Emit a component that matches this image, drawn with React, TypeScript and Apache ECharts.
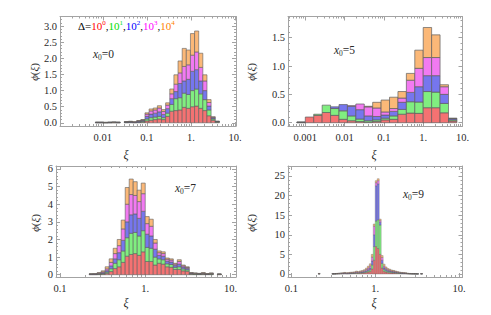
import React, { useEffect, useRef } from 'react';
import * as echarts from 'echarts';

const FONT = 'Liberation Serif, DejaVu Serif, serif';
const FRAME = '#a3a3a3';
const TEXT = '#2a2a2a';
const FILL = ['#f47272', '#80ee80', '#7676ee', '#f27af2', '#fbb878'];
const EDGE = '#5e5e5e';

// legend: Δ = 10^0 ... 10^4
const deltaExponents = ['0', '1', '2', '3', '4'];
const legendColors = ['#ff0000', '#00dd00', '#0000ff', '#ff00ff', '#ff8000'];
// panel annotations x0 = ...
const x0Values = ['0', '5', '7', '9'];
// tick labels for log10 exponents
const xTickText: Record<string, string> = { '-3': '0.001', '-2': '0.01', '-1': '0.1', '0': '1.', '1': '10.' };

// ---------- Panel 1 (x0 = 0): bins in log10(ξ) ----------
const p1BinStart = -2.168;
const p1BinWidth = 0.0937;
const p1Red = [.004, .004, .003, .004, .005, .004, 0, .008, .01, .006, .01, .02, .06, .08, .10, .12, .10, .20, .36, .38, .40, .48, .45, .50, .52, .45, .38, .22, .08, .02];
const p1Green = [.004, .004, .003, .004, .005, .004, 0, .008, .01, .006, .01, .025, .06, .08, .08, .08, .06, .10, .21, .37, .38, .44, .43, .50, .53, .45, .34, .18, .04, .01];
const p1Blue = [.004, .004, .003, .004, .005, .004, 0, .008, .01, .006, .025, .025, .08, .11, .12, .14, .10, .14, .18, .22, .44, .38, .47, .60, .60, .40, .28, .12, .03, .01];
const p1Magenta = [.004, .004, .003, .004, .005, .004, 0, .008, .01, .006, .015, .02, .07, .10, .10, .12, .09, .11, .15, .23, .33, .45, .45, .50, .55, .42, .30, .11, .02, .005];
const p1Orange = [.004, .004, .003, .004, .005, .004, 0, .008, .01, .006, .01, .01, .04, .06, .06, .07, .06, .07, .15, .29, .37, .56, .46, .67, .65, .44, .19, .09, .02, .005];

// ---------- Panel 2 (x0 = 5) ----------
const p2BinStart = -3.214;
const p2BinWidth = 0.2143;
const p2Red = [.002, .10, .13, .18, .13, .06, .035, .02, .01, .02, .05, .06, .15, .17, .165, .265, .265, .175, .03];
const p2Green = [.002, 0, .02, .13, .12, .15, .085, .045, .025, .03, .03, .06, .085, .20, .20, .285, .275, .165, .02];
const p2Blue = [.002, 0, 0, 0, .03, .11, .17, .165, .085, .06, .055, .08, .125, .165, .27, .28, .29, .16, .02];
const p2Magenta = [.002, 0, 0, 0, 0, 0, .01, .10, .16, .15, .055, .05, .075, .215, .325, .32, .32, .135, .005];
const p2Orange = [.002, 0, 0, 0, 0, 0, 0, 0, .01, .10, .21, .20, .115, .12, .32, .53, .40, .035, .005];

// ---------- Panel 3 (x0 = 7) ----------
const p3BinStart = -0.658;
const p3BinWidth = 0.047;
const p3Red = [.01, .01, .02, .03, .08, .18, .35, .45, .70, 1.05, 1.15, 1.2, 1.1, 1.3, .75, .75, .55, .65, .6, .45, .42, .3, .3, .22, .2, .03, .02, .02, .03, .015, .02, 0, .01];
const p3Green = [.01, .01, .02, .04, .07, .16, .30, .40, .65, 1.05, 1.2, 1.2, 1.1, 1.2, .8, .75, .45, .25, .25, .17, .16, .12, .15, .11, .08, .03, .02, .015, .02, .01, .02, 0, .01];
const p3Blue = [.01, .01, .02, .04, .08, .16, .25, .40, .60, .90, 1.05, 1.05, 1.0, 1.1, .75, .7, .45, .2, .2, .15, .14, .1, .15, .1, .07, .02, .02, .015, .02, .01, .02, 0, .005];
const p3Magenta = [.01, .015, .03, .05, .10, .20, .30, .40, .65, 1.0, 1.15, 1.05, .95, 1.0, .6, .55, .35, .15, .15, .11, .11, .08, .15, .07, .06, .02, .02, .015, .02, .01, .02, 0, .005];
const p3Orange = [.01, .015, .03, .06, .12, .20, .30, .35, .50, .95, .88, .78, .65, .6, .4, .4, .2, .1, .1, .07, .07, .05, .1, .05, .04, .02, .02, .015, .03, .015, .02, 0, .01];

// ---------- Panel 4 (x0 = 9) ----------
const p4BinStart = -0.681;
const p4BinWidth = 0.02348;
const p4Red = [.03, 0, 0, 0, 0, 0, 0, .02, .02, .04, .05, .06, .07, .1, .07, .08, .1, .12, .13, .18, .15, .2, .22, .28, .38, .5, .65, 1.3, 3.5, 7.0, 6.5, 5.0, 1.5, .7, .5, .38, .32, .27, .24, .2, .16, .13, .1, .09, .08, .05, .04, .03, .025, .02, .01, 0, .02];
const p4Green = [.02, 0, 0, 0, 0, 0, 0, .01, .015, .02, .03, .04, .05, .06, .05, .05, .07, .08, .08, .11, .09, .12, .14, .17, .23, .32, .45, 1.0, 3.5, 6.5, 7.3, 7.5, 1.2, .5, .35, .27, .23, .19, .17, .14, .11, .09, .07, .06, .05, .04, .03, .02, .02, .015, .01, 0, .02];
const p4Blue = [.02, 0, 0, 0, 0, 0, 0, .01, .015, .02, .03, .04, .04, .06, .04, .05, .07, .07, .08, .11, .09, .12, .14, .17, .23, .3, .4, 1.0, 3.0, 9.0, 9.2, .7, .8, .4, .3, .23, .2, .16, .15, .12, .1, .08, .07, .06, .05, .03, .02, .02, .015, .015, .01, 0, .02];
const p4Magenta = [.03, 0, 0, 0, 0, 0, 0, .02, .02, .03, .04, .05, .06, .08, .06, .07, .09, .1, .11, .15, .12, .16, .18, .22, .3, .4, .55, 1.0, 2.2, .8, .8, .4, .7, .4, .3, .24, .2, .17, .15, .13, .1, .09, .07, .06, .05, .03, .02, .02, .015, .01, .01, 0, .02];
const p4Orange = [.05, 0, 0, 0, 0, 0, 0, .02, .03, .04, .05, .06, .08, .1, .08, .1, .12, .13, .15, .2, .15, .2, .22, .26, .36, .48, .55, .7, .55, .5, .5, .4, .5, .5, .35, .28, .25, .21, .19, .16, .13, .11, .09, .08, .07, .05, .04, .03, .025, .02, .01, 0, .02];

const panels = [
  {
    grid: { left: 60, top: 16.5, width: 176, height: 109.5 },
    xMin: -2.97, xMax: 1.02, yMin: -0.099, yMax: 3.3, yMajor: 0.5, yMinorPerMajor: 5, yDigits: 1,
    start: p1BinStart, width: p1BinWidth, layers: [p1Red, p1Green, p1Blue, p1Magenta, p1Orange],
    edgeWidth: 0.6,
    xiLabel: [126, 155], phiLabel: [34, 72], x0Label: [93, 54],
  },
  {
    grid: { left: 288, top: 16.5, width: 174.5, height: 109.5 },
    xMin: -3.44, xMax: 1.0, yMin: -0.058, yMax: 1.874, yMajor: 0.5, yMinorPerMajor: 5, yDigits: 1,
    start: p2BinStart, width: p2BinWidth, layers: [p2Red, p2Green, p2Blue, p2Magenta, p2Orange],
    edgeWidth: 0.7,
    xiLabel: [374, 155], phiLabel: [251, 72], x0Label: [334, 50],
  },
  {
    grid: { left: 56, top: 166, width: 180, height: 111 },
    xMin: -1.047, xMax: 1.065, yMin: -0.13, yMax: 6.17, yMajor: 1, yMinorPerMajor: 5, yDigits: 0,
    start: p3BinStart, width: p3BinWidth, layers: [p3Red, p3Green, p3Blue, p3Magenta, p3Orange],
    edgeWidth: 0.6,
    xiLabel: [126, 303], phiLabel: [35, 223], x0Label: [175, 188],
  },
  {
    grid: { left: 288, top: 166, width: 174.5, height: 111 },
    xMin: -1.04, xMax: 1.04, yMin: -0.77, yMax: 27.55, yMajor: 5, yMinorPerMajor: 5, yDigits: 0,
    start: p4BinStart, width: p4BinWidth, layers: [p4Red, p4Green, p4Blue, p4Magenta, p4Orange],
    edgeWidth: 0.35,
    xiLabel: [374, 303], phiLabel: [251, 223], x0Label: [403, 194],
  },
];

function buildRects(start: number, width: number, layers: number[][]) {
  const out: number[][] = [];
  const n = layers[0].length;
  for (let i = 0; i < n; i++) {
    let base = 0;
    for (let l = 0; l < layers.length; l++) {
      const h = layers[l][i];
      if (h > 0) out.push([start + i * width, start + (i + 1) * width, base, base + h, l]);
      base += h;
    }
  }
  return out;
}

function xMajorTicks(min: number, max: number) {
  const out: number[] = [];
  for (let d = Math.ceil(min); d <= Math.floor(max + 1e-9); d++) out.push(d);
  return out;
}
function xMinorTicks(min: number, max: number) {
  const out: number[] = [];
  for (let d = Math.floor(min) - 1; d <= Math.ceil(max); d++) {
    for (let m = 2; m <= 9; m++) {
      const v = d + Math.log10(m);
      if (v > min && v < max) out.push(v);
    }
  }
  return out;
}
function yTicks(max: number, major: number, per: number) {
  const majors: number[] = [];
  const minors: number[] = [];
  const step = major / per;
  for (let i = 0; i * step <= max + 1e-9; i++) {
    const v = Math.round(i * step * 1e6) / 1e6;
    if (i % per === 0) majors.push(v);
    else minors.push(v);
  }
  return { majors, minors };
}

function App() {
  const ref = useRef<HTMLDivElement>(null);
  useEffect(() => {
    if (!ref.current) return;
    const chart = echarts.init(ref.current, undefined, { renderer: 'svg' });

    const grids: any[] = [];
    const xAxes: any[] = [];
    const yAxes: any[] = [];
    const series: any[] = [];
    const graphic: any[] = [];

    const baseAxis = (gridIndex: number, min: number, max: number, position: string) => ({
      type: 'value', gridIndex, min, max, position,
      splitLine: { show: false },
      axisLine: { show: false, onZero: false, lineStyle: { color: FRAME, width: 1 } },
      axisTick: { show: false },
      axisLabel: { show: false },
    });

    panels.forEach((p, gi) => {
      grids.push({ ...p.grid, containLabel: false });
      const xMaj = xMajorTicks(p.xMin, p.xMax);
      const xMin = xMinorTicks(p.xMin, p.xMax);
      const yt = yTicks(p.yMax, p.yMajor, p.yMinorPerMajor);

      const xMainIndex = xAxes.length;
      ['bottom', 'top'].forEach((pos) => {
        const major: any = baseAxis(gi, p.xMin, p.xMax, pos);
        major.axisLine = { show: true, onZero: false, lineStyle: { color: FRAME, width: 1 } };
        major.axisTick = { show: true, inside: true, length: 4, customValues: xMaj, lineStyle: { color: FRAME, width: 1 } };
        if (pos === 'bottom') {
          major.axisLabel = {
            show: true, customValues: xMaj, margin: 6, fontFamily: FONT, fontSize: 10.5, color: TEXT,
            formatter: (v: number) => xTickText[String(Math.round(v))] ?? '',
          };
        }
        xAxes.push(major);
        const minor: any = baseAxis(gi, p.xMin, p.xMax, pos);
        minor.axisTick = { show: true, inside: true, length: 2, customValues: xMin, lineStyle: { color: FRAME, width: 1 } };
        xAxes.push(minor);
      });

      const yMainIndex = yAxes.length;
      ['left', 'right'].forEach((pos) => {
        const major: any = baseAxis(gi, p.yMin, p.yMax, pos);
        major.axisLine = { show: true, onZero: false, lineStyle: { color: FRAME, width: 1 } };
        major.axisTick = { show: true, inside: true, length: 4, customValues: yt.majors, lineStyle: { color: FRAME, width: 1 } };
        if (pos === 'left') {
          major.axisLabel = {
            show: true, customValues: yt.majors, margin: 3, fontFamily: FONT, fontSize: 10.5, color: TEXT,
            formatter: (v: number) => v.toFixed(p.yDigits),
          };
        }
        yAxes.push(major);
        const minor: any = baseAxis(gi, p.yMin, p.yMax, pos);
        minor.axisTick = { show: true, inside: true, length: 2, customValues: yt.minors, lineStyle: { color: FRAME, width: 1 } };
        yAxes.push(minor);
      });

      const edgeWidth = p.edgeWidth;
      series.push({
        type: 'custom',
        coordinateSystem: 'cartesian2d',
        xAxisIndex: xMainIndex,
        yAxisIndex: yMainIndex,
        encode: { x: [0, 1], y: [2, 3] },
        clip: true,
        data: buildRects(p.start, p.width, p.layers),
        renderItem: (params: any, api: any) => {
          const a = api.coord([api.value(0), api.value(3)]);
          const b = api.coord([api.value(1), api.value(2)]);
          const l = api.value(4);
          return {
            type: 'rect',
            shape: { x: a[0], y: a[1], width: b[0] - a[0], height: b[1] - a[1] },
            style: { fill: FILL[l], stroke: EDGE, lineWidth: edgeWidth },
          };
        },
      });

      // axis names
      graphic.push({
        type: 'text', x: p.xiLabel[0], y: p.xiLabel[1], silent: true,
        style: { text: 'ξ', fontFamily: FONT, fontStyle: 'italic', fontSize: 12, fill: TEXT, align: 'center', verticalAlign: 'middle' },
      });
      graphic.push({
        type: 'text', x: p.phiLabel[0], y: p.phiLabel[1], rotation: Math.PI / 2, silent: true,
        style: {
          text: '{i|ϕ}{n|(}{i|ξ}{n|)}', align: 'center', verticalAlign: 'middle',
          rich: {
            i: { fontFamily: FONT, fontStyle: 'italic', fontSize: 11, fill: TEXT },
            n: { fontFamily: FONT, fontSize: 11, fill: TEXT },
          },
        },
      });
      graphic.push({
        type: 'text', x: p.x0Label[0], y: p.x0Label[1], silent: true,
        style: {
          text: '{i|x}{s|0}{n|=' + x0Values[gi] + '}', align: 'left', verticalAlign: 'middle',
          rich: {
            i: { fontFamily: FONT, fontStyle: 'italic', fontSize: 11.5, fill: TEXT, lineHeight: 14 },
            s: { fontFamily: FONT, fontSize: 7.5, fill: TEXT, verticalAlign: 'bottom' },
            n: { fontFamily: FONT, fontSize: 11.5, fill: TEXT, lineHeight: 14 },
          },
        },
      });
    });

    // legend text Δ=10^0,10^1,...
    let legendText = '{k|Δ=}';
    const legendRich: any = {
      k: { fontFamily: FONT, fontSize: 11, fill: '#000', lineHeight: 14 },
    };
    deltaExponents.forEach((e, i) => {
      if (i > 0) legendText += '{k|,}';
      legendText += `{b${i}|10}{s${i}|${e}}`;
      legendRich['b' + i] = { fontFamily: FONT, fontSize: 11, fill: legendColors[i], lineHeight: 14 };
      legendRich['s' + i] = { fontFamily: FONT, fontSize: 7, fill: legendColors[i], verticalAlign: 'top' };
    });
    graphic.push({
      type: 'text', x: 78, y: 26, silent: true,
      style: { text: legendText, rich: legendRich, align: 'left', verticalAlign: 'middle' },
    });

    chart.setOption({
      animation: false,
      backgroundColor: '#ffffff',
      grid: grids,
      xAxis: xAxes,
      yAxis: yAxes,
      series,
      graphic,
    });
    return () => chart.dispose();
  }, []);
  return <div ref={ref} style={{ position: 'absolute', left: 0, top: 0, width: 491, height: 315 }} />;
}

export default App;
